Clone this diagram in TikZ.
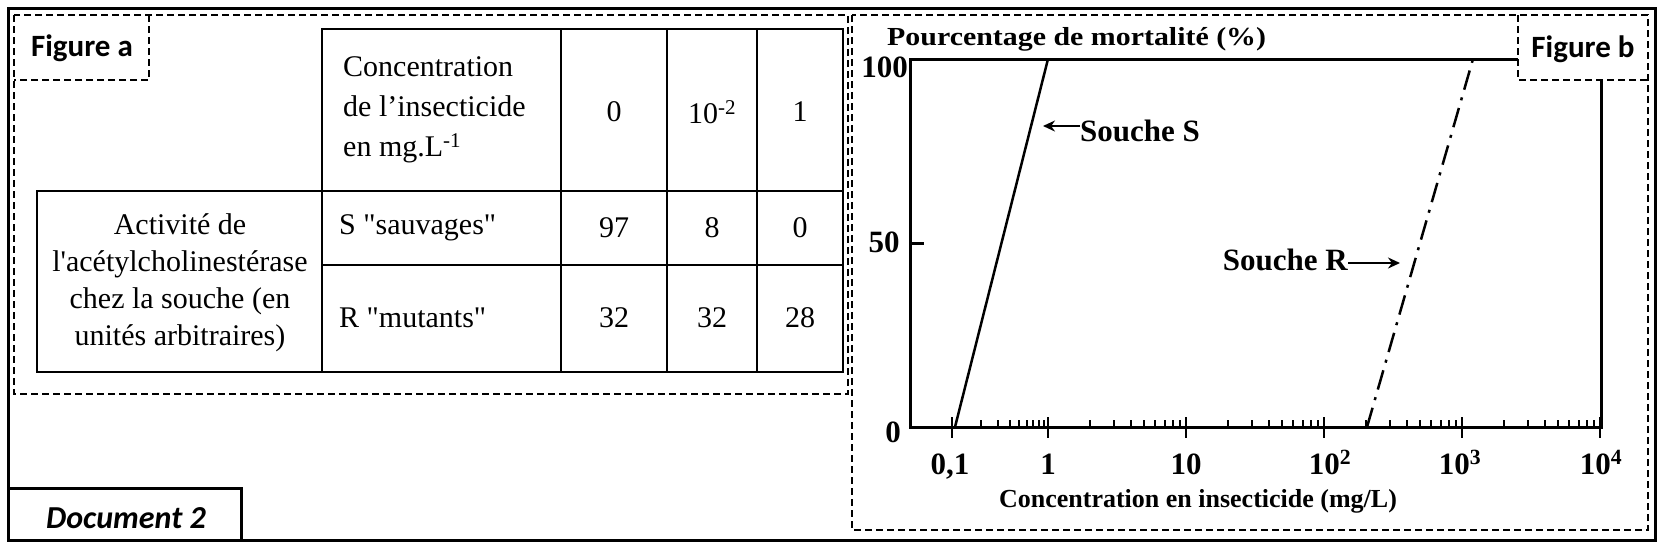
\documentclass[tikz,border=0pt]{standalone}
\usepackage{fontspec}
\setmainfont{Liberation Serif}
\newfontfamily\rawserif{Liberation Serif}
\newfontfamily\wideserifA[FakeStretch=1.15]{Liberation Serif}
\newfontfamily\calibri{Carlito}
\usetikzlibrary{arrows.meta}
\newcommand{\sq}{{\rawserif\symbol{"22}}}
\newcommand{\ap}{{\rawserif\symbol{"27}}}
\begin{document}
\begin{tikzpicture}[x=1pt,y=-1pt,
  frame/.style={draw, line width=3pt},
  dashbox/.style={draw, line width=1.8pt, dash pattern=on 7pt off 4pt},
  cell/.style={draw, line width=2.5pt},
  txt/.style={font=\fontsize{30}{40}\selectfont, inner sep=0pt},
  rowtxt/.style={font=\fontsize{30}{37}\selectfont, inner sep=0pt, align=center},
  figlab/.style={font=\calibri\bfseries\fontsize{31}{31}\selectfont, inner sep=0pt},
  axisline/.style={line width=3pt},
  lab/.style={font=\bfseries\fontsize{31}{31}\selectfont, inner sep=0pt},
  arr/.style={line width=2.5pt, -{Stealth[length=12pt,width=11pt]}},
  curve/.style={line width=2.5pt}
]
\useasboundingbox (0,0) rectangle (1664,550);
% outer frame
\draw[frame] (8,8) rectangle (1655,540);
% Document 2
\draw[frame] (8,488) rectangle (241,540);
\node[figlab, font=\calibri\bfseries\itshape\fontsize{32}{32}\selectfont] (doc) at (126,518) {Document 2};

% ---------- Figure a ----------
\draw[dashbox] (14,15) rectangle (848,394);
\draw[dashbox] (149,15) -- (149,80) -- (14,80);
\node[figlab] (figa) at (82,48) {Figure a};

% table
\draw[cell] (322,29) rectangle (843,372);
\draw[cell] (37,191) rectangle (322,372);
\draw[cell] (322,191) -- (843,191);
\draw[cell] (322,265) -- (843,265);
\foreach \cx in {561,667,757} \draw[cell] (\cx,29) -- (\cx,372);

\node[txt, align=left, anchor=west] (hconc) at (343,110) {Concentration\\de l’insecticide\\en mg.L\textsuperscript{-1}};
\node[txt] (c0) at (614,112) {0};
\node[txt] (c1) at (712,112) {10\textsuperscript{-2}};
\node[txt] (c2) at (800,112) {1};
\node[txt, anchor=west] (rs) at (339,228) {S \sq sauvages\sq};
\node[txt, anchor=west] (rr) at (339,318) {R \sq mutants\sq};
\node[txt] (s0) at (614,228) {97};
\node[txt] (s1) at (712,228) {8};
\node[txt] (s2) at (800,228) {0};
\node[txt] (r0) at (614,318) {32};
\node[txt] (r1) at (712,318) {32};
\node[txt] (r2) at (800,318) {28};
\node[rowtxt] (act) at (180,283) {Activité de\\l\ap acétylcholinestérase\\chez la souche (en\\unités arbitraires)};

% ---------- Figure b ----------
\draw[dashbox] (852,15) rectangle (1648,530);
\draw[dashbox] (1518,15) -- (1518,80) -- (1648,80);
\node[figlab] (figb) at (1583,49) {Figure b};

% curves
\draw[curve] (955,427) -- (1048,59);
\draw[curve, dash pattern=on 20pt off 8pt on 3pt off 8pt] (1367,427) -- (1473,59);

% axes
\draw[axisline] (1518,59) -- (910,59) -- (910,427) -- (1601,427) -- (1601,80);
\draw[axisline] (910,243) -- (924,243);
% major ticks
\foreach \tx in {952,1048,1186,1324,1462,1600} \draw[line width=2.5pt] (\tx,417) -- (\tx,438);
% minor ticks
\foreach \m in {2,...,9} {
  \draw[line width=2pt] ({952+96*log10(\m)},427) -- ({952+96*log10(\m)},420);
  \foreach \d in {1048,1186,1324,1462}
    \draw[line width=2pt] ({\d+138*log10(\m)},427) -- ({\d+138*log10(\m)},420);
}

% labels
\node[inner sep=0pt, font=\wideserifA\bfseries\fontsize{26}{26}\selectfont, anchor=base west] (ytitle) at (887,45) {Pourcentage de mortalité (\%)};
\node[lab, anchor=east] (y100) at (908,67) {100};
\node[lab] (y50) at (884,242) {50};
\node[lab] (y0) at (893,432) {0};
\node[lab, anchor=base] (x01) at (950,474) {0,1};
\node[lab, anchor=base] (x1) at (1048,474) {1};
\node[lab, anchor=base] (x10) at (1186,474) {10};
\node[lab, anchor=base] (x100) at (1330,474) {10\textsuperscript{2}};
\node[lab, anchor=base] (x1000) at (1460,474) {10\textsuperscript{3}};
\node[lab, anchor=base] (x10000) at (1601,474) {10\textsuperscript{4}};
\node[inner sep=0pt, font=\bfseries\fontsize{26}{26}\selectfont, anchor=base] (xtitle) at (1198,507) {Concentration en insecticide (mg/L)};

\node[lab, anchor=west] (souS) at (1080,131) {Souche S};
\coordinate (sTip) at (1043,126);
\draw[arr] ([yshift=5pt]souS.west) -- (sTip);
\node[lab, anchor=east] (souR) at (1348,260) {Souche R};
\coordinate (rTip) at (1400,263);
\draw[arr] ([yshift=-3pt]souR.east) -- (rTip);
\end{tikzpicture}
\end{document}
